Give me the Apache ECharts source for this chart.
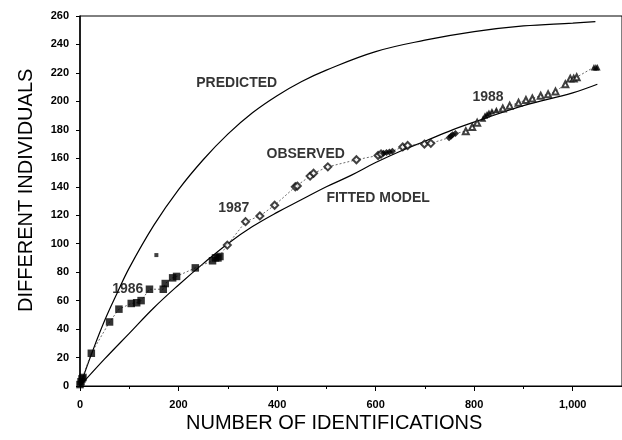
<!DOCTYPE html>
<html>
<head>
<meta charset="utf-8">
<script src="https://cdn.jsdelivr.net/npm/echarts@6/dist/echarts.min.js"></script>
<style>
  html, body { margin: 0; padding: 0; background: #fff; }
  #chart { width: 622px; height: 440px; }
</style>
</head>
<body>
<div id="chart"></div>
<script>
// Cumulative number of different individuals vs. number of identifications
const xTicks = [0, 200, 400, 600, 800, 1000];
const yTicks = [0, 20, 40, 60, 80, 100, 120, 140, 160, 180, 200, 220, 240, 260];

// Predicted discovery curve
const predicted = [[0,0],[25,24],[50,46],[75,65],[100,83],[150,113],[200,138],[250,159],[300,177],
  [350,192],[400,204],[450,214],[500,222],[600,235],[700,243],[800,249],[900,253],[1000,255],[1046,256]];

// Fitted model curve
const fitted = [[0,0],[50,19],[100,37],[150,55],[200,71],[250,86],[300,100],[350,112],[400,122],
  [450,131],[500,140],[550,148],[600,157],[650,165],[700,172],[756,180],[813,187],[900,197],[1000,206],[1050,212]];

// Observed identifications, 1986 (filled squares)
const obs1986 = [[0,1],[2,3],[4,5],[6,6],[23,23],[60,45],[79,54],[104,58],[115,58.5],[124,60],[141,68],
  [169,68],[173,72],[188,76],[196,77],[234,83],[269,88],[275,90],[280,90],[284,91]];
const stray1986 = [[155,92]];

// Observed identifications, 1987 (open diamonds; dense runs drawn filled)
const obs1987 = [[299,99],[336,115.5],[365,119.5],[395,127],[437,140],[441,140.5],[467,147.5],[474,149.5],
  [503,154],[561,159],[605,162],[611,163],[655,168],[665,169],[699,170],[712,170.5]];
const dense1987 = [[616,163.5],[622,164],[628,164.5],[634,165],[749,174.5],[753,175.5],[756,176.5],[762,177.5]];

// Observed identifications, 1988 (open triangles; dense runs drawn filled)
const obs1988 = [[783,179],[796,182],[806,185],[858,195],[872,197],[890,199],[905,201],[918,202],[935,204],
  [950,205],[965,207],[985,212],[995,216],[1002,216],[1008,217]];
const dense1988 = [[818,188],[822,190],[826,191],[830,192],[836,193],[845,194],[1043,224],[1047,224],[1050,224]];

// Text annotations anchored in data units
const notes = [
  { name: 'PREDICTED', value: [318, 213] },
  { name: 'OBSERVED', value: [458, 163] },
  { name: 'FITTED MODEL', value: [605, 132] },
  { name: '1986', value: [97, 68] },
  { name: '1987', value: [312, 125] },
  { name: '1988', value: [828, 203] }
];

const observedPath = []
  .concat(obs1986, obs1987, dense1987, obs1988, dense1988)
  .sort((a, b) => a[0] - b[0]);

const chart = echarts.init(document.getElementById('chart'), null, { renderer: 'canvas' });
const tickFont = { fontFamily: 'Liberation Sans', fontSize: 11, fontWeight: 'bold', color: '#000' };

chart.setOption({
  animation: false,
  backgroundColor: '#fff',
  grid: { left: 80, top: 16, width: 545, bottom: 54, show: true, borderColor: '#000', borderWidth: 1 },
  xAxis: {
    type: 'value', min: xTicks[0], max: 1100, interval: 200,
    axisLine: { show: true, lineStyle: { color: '#000', width: 1 } },
    axisTick: { show: true, length: 5, lineStyle: { color: '#000' } },
    minorTick: { show: true, splitNumber: 2, length: 3, lineStyle: { color: '#000' } },
    splitLine: { show: false },
    axisLabel: Object.assign({ margin: 13, showMaxLabel: false,
      formatter: v => xTicks.includes(v) ? (v >= 1000 ? v.toLocaleString('en-US') : String(v)) : '' }, tickFont)
  },
  yAxis: {
    type: 'value', min: yTicks[0], max: yTicks[yTicks.length - 1], interval: 20,
    axisLine: { show: true, lineStyle: { color: '#000', width: 1.5 } },
    axisTick: { show: true, length: 4, lineStyle: { color: '#000' } },
    splitLine: { show: false },
    axisLabel: Object.assign({ margin: 11 }, tickFont)
  },
  graphic: [
    { type: 'text', left: 186, top: 413,
      style: { text: 'NUMBER OF IDENTIFICATIONS', font: '20px "Liberation Sans"', fill: '#000' } },
    { type: 'text', x: 16, y: 312, rotation: Math.PI / 2,
      style: { text: 'DIFFERENT INDIVIDUALS', font: '20px "Liberation Sans"', fill: '#000' } }
  ],
  series: [
    { name: 'Predicted', type: 'line', data: predicted, smooth: 0.4, symbol: 'none',
      lineStyle: { color: '#000', width: 1.2 }, z: 2 },
    { name: 'Fitted model', type: 'line', data: fitted, smooth: 0.4, symbol: 'none',
      lineStyle: { color: '#000', width: 1.2 }, z: 2 },
    { name: 'Observed', type: 'line', data: observedPath, symbol: 'none',
      lineStyle: { color: '#444', width: 0.8, type: [2, 2] }, z: 3 },
    { name: '1986', type: 'scatter', data: obs1986, symbol: 'rect', symbolSize: 7.5,
      itemStyle: { color: '#000' }, z: 4 },
    { name: '1986 stray', type: 'scatter', data: stray1986, symbol: 'rect', symbolSize: 4,
      itemStyle: { color: '#111' }, z: 4 },
    { name: '1987', type: 'scatter', data: obs1987, symbol: 'emptyDiamond', symbolSize: 7,
      itemStyle: { color: '#111', borderWidth: 0.8 }, z: 4 },
    { name: '1987 dense', type: 'scatter', data: dense1987, symbol: 'diamond', symbolSize: 7,
      itemStyle: { color: '#000' }, z: 4 },
    { name: '1988', type: 'scatter', data: obs1988, symbol: 'emptyTriangle', symbolSize: 6,
      itemStyle: { color: '#111', borderWidth: 0.8 }, z: 4 },
    { name: '1988 dense', type: 'scatter', data: dense1988, symbol: 'triangle', symbolSize: 6.5,
      itemStyle: { color: '#000' }, z: 4 },
    { name: 'notes', type: 'scatter', data: notes, symbolSize: 0, silent: true, z: 5,
      label: { show: true, position: 'inside', formatter: '{b}',
        fontFamily: 'Liberation Sans', fontSize: 14, fontWeight: 'bold', color: '#000' } }
  ]
});
</script>
</body>
</html>
